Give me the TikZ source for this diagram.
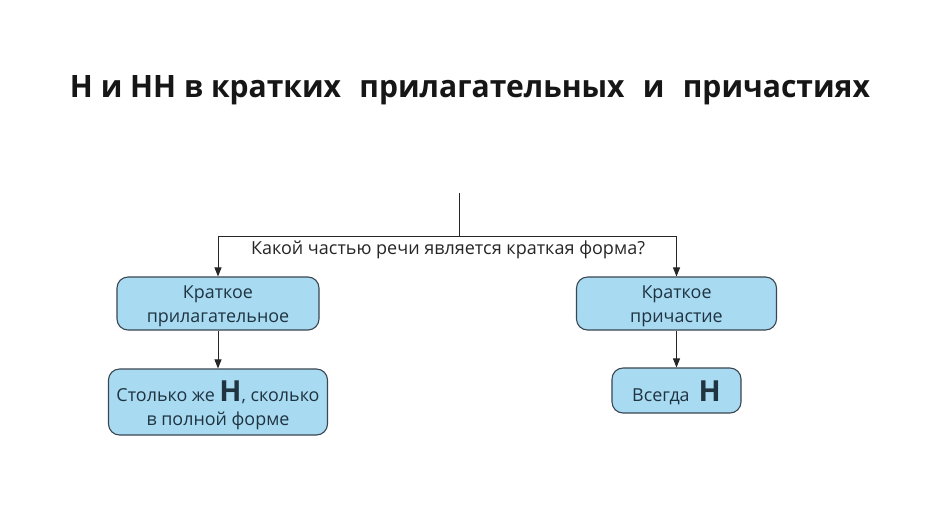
\documentclass[tikz,border=0pt]{standalone}
\usepackage{fontspec}
\setmainfont{Open Sans}
\usetikzlibrary{arrows.meta}
\definecolor{boxfill}{HTML}{A8DAF2}
\definecolor{boxdraw}{HTML}{3A4650}
\definecolor{boxtext}{HTML}{1F3440}
\definecolor{titletext}{HTML}{161616}
\begin{document}
\begin{tikzpicture}[x=1pt,y=-1pt,
  box/.style={draw=boxdraw,line width=1.1pt,fill=boxfill,rounded corners=11pt,inner sep=0pt},
  boxtxt/.style={text=boxtext,align=center,font=\fontsize{17.9}{24}\selectfont,inner sep=0pt,yshift=-3pt},
  conn/.style={draw=black!85,line width=0.9pt},
  arr/.style={conn,-{Triangle[length=9pt,width=7pt]}},
  bigh/.style={font=\fontsize{29}{24}\selectfont\bfseries}]
\useasboundingbox (0,0) rectangle (949,531);
\fill[white] (0,0) rectangle (949,531);
\node[anchor=base,text=titletext,inner sep=0pt] (title) at (470,97)
  {\resizebox{800pt}{22pt}{\fontsize{31}{31}\selectfont\bfseries Н и НН в кратких\hspace{0.35em} прилагательных\hspace{0.35em} и\hspace{0.35em} причастиях}};
\node[box,minimum width=202pt,minimum height=53pt] (adj) at (218,303.5) {};
\node[boxtxt] (adjt) at (adj.center) {Краткое\\прилагательное};
\node[box,minimum width=219pt,minimum height=66pt] (adjres) at (218,402) {};
\node[boxtxt] (adjrest) at (adjres.center) {Столько же {\fontsize{29}{24}\selectfont\bfseries Н}, сколько\\в полной форме};
\node[box,minimum width=200pt,minimum height=53pt] (part) at (676.5,303.5) {};
\node[boxtxt] (partt) at (part.center) {Краткое\\причастие};
\node[box,minimum width=129pt,minimum height=45pt] (partres) at (676.5,390.5) {};
\node[boxtxt,yshift=1pt] (partrest) at (partres.center) {Всегда\hspace{0.5em}{\fontsize{29}{24}\selectfont\bfseries Н}};
\coordinate (top) at (459,193);
\coordinate (j) at (459,236.5);
\coordinate (jl) at (218,236.5);
\coordinate (jr) at (676.5,236.5);
\node[anchor=center,text=black!85,font=\fontsize{18}{20}\selectfont,inner sep=0pt] (q) at (448,250) {Какой частью речи является краткая форма?};
\draw[conn] (top) -- (j);
\draw[arr] (j) -- (jl) -- (adj.north);
\draw[arr] (j) -- (jr) -- (part.north);
\draw[arr] (adj.south) -- (adjres.north);
\draw[arr] (part.south) -- (partres.north);
\end{tikzpicture}
\end{document}
